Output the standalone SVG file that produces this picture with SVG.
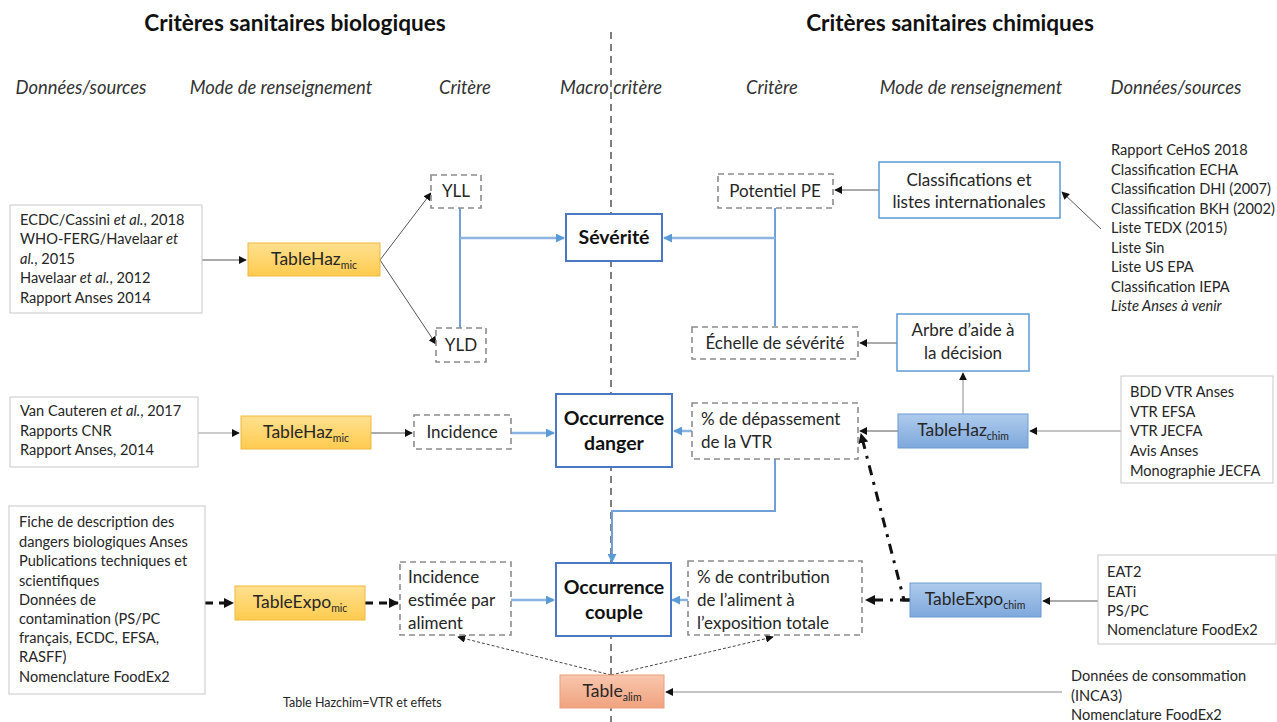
<svg xmlns="http://www.w3.org/2000/svg" width="1277" height="722" viewBox="0 0 1277 722">
  <defs>
    <style>
      text { font-family: Lato, "Open Sans", "Liberation Sans", sans-serif; fill: #262626; }
      .title { font-size: 22.6px; font-weight: bold; fill: #111; }
      .hdr { font-size: 18.4px; font-style: italic; fill: #333; }
      .src { font-size: 14.6px; }
      .lbl { font-size: 17px; }
      .tbl { font-size: 17.5px; }
      .macro { font-size: 19.5px; font-weight: bold; fill: #111; }
      .note { font-size: 12.5px; }
      .srcbox { fill: #fff; stroke: #c8c8c8; stroke-width: 1; }
      .dash { fill: #fff; stroke: #8c8c8c; stroke-width: 1.6; stroke-dasharray: 6 4; }
      .macrobox { fill: #fff; stroke: #4a78c2; stroke-width: 2; }
      .bluebox { fill: #fff; stroke: #5b9bd5; stroke-width: 1.5; }
      .mic { fill: url(#gOrange); stroke: #efb740; stroke-width: 1; }
      .chim { fill: url(#gBlue); stroke: #6d9bd1; stroke-width: 1; }
      .alim { fill: url(#gSalmon); stroke: #e8a080; stroke-width: 1; }
      .k { fill: none; stroke: #555; stroke-width: 1; marker-end: url(#ak); }
      .b { fill: none; stroke: #6fa0d8; stroke-width: 2; }
      .ba { fill: none; stroke: #8cb4e2; stroke-width: 2.5; marker-end: url(#ab); }
      .thick { fill: none; stroke: #111; stroke-width: 3; stroke-dasharray: 8 6; marker-end: url(#ak2); }
      .dd { fill: none; stroke: #111; stroke-width: 3; stroke-dasharray: 10 7 3 7; marker-end: url(#ak2); }
      .thin { fill: none; stroke: #444; stroke-width: 1; stroke-dasharray: 3 2; marker-end: url(#ak); }
    </style>
    <linearGradient id="gOrange" x1="0" y1="0" x2="0" y2="1">
      <stop offset="0" stop-color="#ffe08f"/>
      <stop offset="1" stop-color="#ffcb4f"/>
    </linearGradient>
    <linearGradient id="gBlue" x1="0" y1="0" x2="0" y2="1">
      <stop offset="0" stop-color="#aecbec"/>
      <stop offset="1" stop-color="#7ea8dc"/>
    </linearGradient>
    <linearGradient id="gSalmon" x1="0" y1="0" x2="0" y2="1">
      <stop offset="0" stop-color="#f9c7ae"/>
      <stop offset="1" stop-color="#f0a27f"/>
    </linearGradient>
    <marker id="ak" viewBox="0 0 10 10" refX="9" refY="5" markerWidth="8" markerHeight="8" markerUnits="userSpaceOnUse" orient="auto">
      <path d="M0,0 L10,5 L0,10 z" fill="#111"/>
    </marker>
    <marker id="ak2" viewBox="0 0 10 10" refX="9" refY="5" markerWidth="10" markerHeight="10" markerUnits="userSpaceOnUse" orient="auto">
      <path d="M0,0 L10,5 L0,10 z" fill="#111"/>
    </marker>
    <marker id="ab" viewBox="0 0 10 10" refX="9" refY="5" markerWidth="9" markerHeight="9" markerUnits="userSpaceOnUse" orient="auto">
      <path d="M0,0 L10,5 L0,10 z" fill="#5b9bd5"/>
    </marker>
  </defs>

  <rect width="1277" height="722" fill="#fff"/>

  <!-- titles and column headers -->
  <g id="headers">
    <text class="title" x="295" y="31" text-anchor="middle">Critères sanitaires biologiques</text>
    <text class="title" x="950" y="31" text-anchor="middle">Critères sanitaires chimiques</text>
    <text class="hdr" x="81" y="94" text-anchor="middle">Données/sources</text>
    <text class="hdr" x="281" y="94" text-anchor="middle">Mode de renseignement</text>
    <text class="hdr" x="465" y="94" text-anchor="middle">Critère</text>
    <text class="hdr" x="611" y="94" text-anchor="middle">Macro critère</text>
    <text class="hdr" x="772" y="94" text-anchor="middle">Critère</text>
    <text class="hdr" x="971" y="94" text-anchor="middle">Mode de renseignement</text>
    <text class="hdr" x="1176" y="94" text-anchor="middle">Données/sources</text>
  </g>

  <!-- separator between the biological and chemical halves -->
  <line id="separator" x1="611" y1="32" x2="611" y2="722" stroke="#7f7f7f" stroke-width="2" stroke-dasharray="7 5"/>

  <!-- connectors -->
  <g id="connectors">
    <path class="k" d="M202,260 H246"/>
    <path class="k" d="M380,260 L431,193"/>
    <path class="k" d="M380,260 L436,344"/>
    <path class="b" d="M460,208 V328"/>
    <path class="ba" d="M460,238 H564"/>
    <path class="b" d="M775,208 V326"/>
    <path class="ba" d="M775,238 H664"/>
    <path class="k" d="M879,190 H835"/>
    <path class="k" d="M1101,229 L1062,192"/>
    <path class="k" d="M897,343 H860"/>
    <path class="k" d="M963,414 V373" style="stroke:#8a8a8a"/>
    <path class="k" d="M898,431 H860"/>
    <path class="k" d="M1121,431 H1030" style="stroke:#8a8a8a"/>
    <path class="k" d="M198,433 H239" style="stroke:#999"/>
    <path class="k" d="M371,433 H412"/>
    <path class="ba" d="M511,433 H554"/>
    <path class="ba" d="M692,431 H674"/>
    <path class="b" d="M775,459 V511 H612 V553"/>
    <path class="ba" d="M612,545 V562" style="stroke:#6fa0d8;stroke-width:2"/>
    <path class="thick" d="M205,603 H233"/>
    <path class="thick" d="M365,603 H398"/>
    <path class="ba" d="M511,600 H554"/>
    <path class="ba" d="M688,600 H672"/>
    <path class="dd" d="M910,600 H866"/>
    <path class="dd" d="M910,600 H904 L861,434"/>
    <path class="k" d="M1098,601 H1043"/>
    <path class="k" d="M1062,692 H666" style="stroke:#888"/>
    <path class="thin" d="M611,675 L458,637"/>
    <path class="thin" d="M611,675 L773,637"/>
  </g>

  <!-- biological side -->
  <g id="src-bio-severite">
    <rect class="srcbox" x="10" y="205" width="192" height="108"/>
    <text class="src" x="20" y="225">ECDC/Cassini <tspan font-style="italic">et al.</tspan>, 2018</text>
    <text class="src" x="20" y="244">WHO-FERG/Havelaar <tspan font-style="italic">et</tspan></text>
    <text class="src" x="20" y="264"><tspan font-style="italic">al.</tspan>, 2015</text>
    <text class="src" x="20" y="283">Havelaar <tspan font-style="italic">et al.</tspan>, 2012</text>
    <text class="src" x="20" y="303">Rapport Anses 2014</text>
  </g>
  <g id="tablehaz-mic-1">
    <rect class="mic" x="248" y="243" width="132" height="33"/>
    <text class="tbl" x="314" y="265" text-anchor="middle">TableHaz<tspan font-size="10.5" dy="4">mic</tspan></text>
  </g>
  <g id="yll">
    <rect class="dash" x="431" y="175" width="50" height="33"/>
    <text class="lbl" x="456" y="197" text-anchor="middle">YLL</text>
  </g>
  <g id="yld">
    <rect class="dash" x="436" y="328" width="50" height="34"/>
    <text class="lbl" x="461" y="351" text-anchor="middle">YLD</text>
  </g>

  <g id="src-bio-danger">
    <rect class="srcbox" x="10" y="397" width="188" height="70"/>
    <text class="src" x="20" y="416">Van Cauteren <tspan font-style="italic">et al.</tspan>, 2017</text>
    <text class="src" x="20" y="436">Rapports CNR</text>
    <text class="src" x="20" y="455">Rapport Anses, 2014</text>
  </g>
  <g id="tablehaz-mic-2">
    <rect class="mic" x="241" y="416" width="130" height="33"/>
    <text class="tbl" x="306" y="438" text-anchor="middle">TableHaz<tspan font-size="10.5" dy="4">mic</tspan></text>
  </g>
  <g id="incidence">
    <rect class="dash" x="414" y="415" width="97" height="34"/>
    <text class="lbl" x="462" y="438" text-anchor="middle">Incidence</text>
  </g>

  <g id="src-bio-couple">
    <rect class="srcbox" x="9" y="506" width="196" height="188"/>
    <text class="src" x="19" y="527">Fiche de description des</text>
    <text class="src" x="19" y="547">dangers biologiques Anses</text>
    <text class="src" x="19" y="566">Publications techniques et</text>
    <text class="src" x="19" y="586">scientifiques</text>
    <text class="src" x="19" y="605">Données de</text>
    <text class="src" x="19" y="624">contamination (PS/PC</text>
    <text class="src" x="19" y="643">français, ECDC, EFSA,</text>
    <text class="src" x="19" y="662">RASFF)</text>
    <text class="src" x="19" y="682">Nomenclature FoodEx2</text>
  </g>
  <g id="tableexpo-mic">
    <rect class="mic" x="235" y="586" width="130" height="34"/>
    <text class="tbl" x="300" y="608" text-anchor="middle">TableExpo<tspan font-size="10.5" dy="4">mic</tspan></text>
  </g>
  <g id="incidence-aliment">
    <rect class="dash" x="400" y="562" width="111" height="73"/>
    <text class="lbl" x="408" y="583">Incidence</text>
    <text class="lbl" x="408" y="606">estimée par</text>
    <text class="lbl" x="408" y="629">aliment</text>
  </g>
  <text class="note" x="283" y="707">Table Hazchim=VTR et effets</text>

  <!-- macro criteria -->
  <g id="severite">
    <rect class="macrobox" x="566" y="214" width="96" height="47"/>
    <text class="macro" x="614" y="244" text-anchor="middle">Sévérité</text>
  </g>
  <g id="occurrence-danger">
    <rect class="macrobox" x="556" y="394" width="116" height="73"/>
    <text class="macro" x="614" y="425" text-anchor="middle">Occurrence</text>
    <text class="macro" x="614" y="450" text-anchor="middle">danger</text>
  </g>
  <g id="occurrence-couple">
    <rect class="macrobox" x="556" y="563" width="115" height="73"/>
    <text class="macro" x="614" y="594" text-anchor="middle">Occurrence</text>
    <text class="macro" x="614" y="619" text-anchor="middle">couple</text>
  </g>
  <g id="table-alim">
    <rect class="alim" x="560" y="675" width="104" height="33"/>
    <text class="tbl" x="612" y="697" text-anchor="middle">Table<tspan font-size="10.5" dy="4">alim</tspan></text>
  </g>

  <!-- chemical side -->
  <g id="potentiel-pe">
    <rect class="dash" x="718" y="174" width="115" height="34"/>
    <text class="lbl" x="775" y="197" text-anchor="middle">Potentiel PE</text>
  </g>
  <g id="echelle-severite">
    <rect class="dash" x="692" y="327" width="166" height="32"/>
    <text class="lbl" x="775" y="349" text-anchor="middle">Échelle de sévérité</text>
  </g>
  <g id="classifications">
    <rect class="bluebox" x="879" y="162" width="181" height="56"/>
    <text class="lbl" x="969" y="186" text-anchor="middle">Classifications et</text>
    <text class="lbl" x="969" y="208" text-anchor="middle">listes internationales</text>
  </g>
  <g id="src-chim-severite">
    <text class="src" x="1111" y="155">Rapport CeHoS 2018</text>
    <text class="src" x="1111" y="175">Classification ECHA</text>
    <text class="src" x="1111" y="194">Classification DHI (2007)</text>
    <text class="src" x="1111" y="214">Classification BKH (2002)</text>
    <text class="src" x="1111" y="233">Liste TEDX (2015)</text>
    <text class="src" x="1111" y="253">Liste Sin</text>
    <text class="src" x="1111" y="272">Liste US EPA</text>
    <text class="src" x="1111" y="292">Classification IEPA</text>
    <text class="src" x="1111" y="311" font-style="italic">Liste Anses à venir</text>
  </g>
  <g id="arbre-decision">
    <rect class="bluebox" x="897" y="314" width="132" height="57"/>
    <text class="lbl" x="963" y="336" text-anchor="middle">Arbre d’aide à</text>
    <text class="lbl" x="963" y="359" text-anchor="middle">la décision</text>
  </g>
  <g id="depassement-vtr">
    <rect class="dash" x="692" y="403" width="166" height="56"/>
    <text class="lbl" x="701" y="425">% de dépassement</text>
    <text class="lbl" x="701" y="448">de la VTR</text>
  </g>
  <g id="tablehaz-chim">
    <rect class="chim" x="898" y="414" width="130" height="34"/>
    <text class="tbl" x="963" y="436" text-anchor="middle">TableHaz<tspan font-size="10.5" dy="4">chim</tspan></text>
  </g>
  <g id="src-chim-danger">
    <rect class="srcbox" x="1121" y="376" width="152" height="107"/>
    <text class="src" x="1130" y="397">BDD VTR Anses</text>
    <text class="src" x="1130" y="417">VTR EFSA</text>
    <text class="src" x="1130" y="436">VTR JECFA</text>
    <text class="src" x="1130" y="456">Avis Anses</text>
    <text class="src" x="1130" y="476">Monographie JECFA</text>
  </g>
  <g id="contribution-aliment">
    <rect class="dash" x="688" y="561" width="174" height="74"/>
    <text class="lbl" x="697" y="583">% de contribution</text>
    <text class="lbl" x="697" y="606">de l’aliment à</text>
    <text class="lbl" x="697" y="629">l’exposition totale</text>
  </g>
  <g id="tableexpo-chim">
    <rect class="chim" x="910" y="583" width="131" height="34"/>
    <text class="tbl" x="975" y="605" text-anchor="middle">TableExpo<tspan font-size="10.5" dy="4">chim</tspan></text>
  </g>
  <g id="src-chim-couple">
    <rect class="srcbox" x="1098" y="555" width="178" height="89"/>
    <text class="src" x="1107" y="577">EAT2</text>
    <text class="src" x="1107" y="597">EATi</text>
    <text class="src" x="1107" y="616">PS/PC</text>
    <text class="src" x="1107" y="635">Nomenclature FoodEx2</text>
  </g>
  <g id="src-conso">
    <text class="src" x="1071" y="681">Données  de consommation</text>
    <text class="src" x="1071" y="701">(INCA3)</text>
    <text class="src" x="1071" y="720">Nomenclature FoodEx2</text>
  </g>
</svg>
